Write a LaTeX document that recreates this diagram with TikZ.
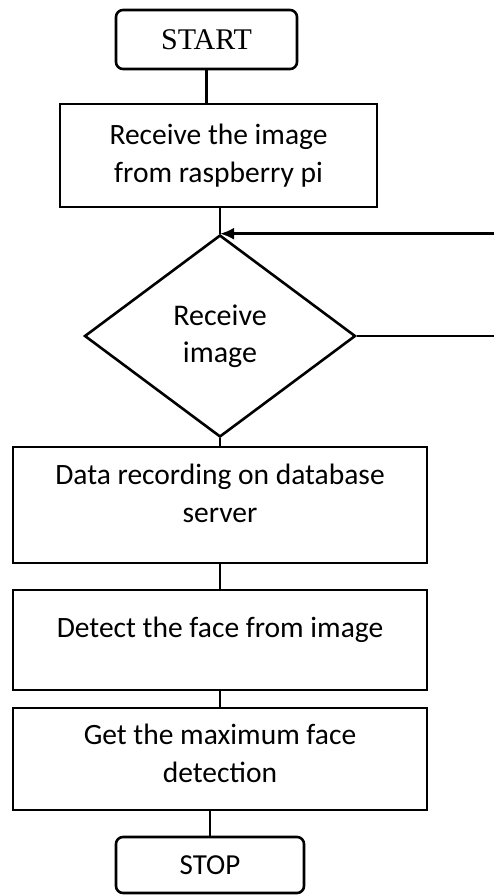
\documentclass[tikz,border=0pt]{standalone}
\usepackage{fontspec}
\setmainfont{Carlito}
\newfontfamily\serifstart{Liberation Serif}
\usetikzlibrary{shapes.geometric,arrows.meta}

\begin{document}
\begin{tikzpicture}[x=1pt, y=-1pt, line width=2.6pt,
    term/.style = {draw, rounded corners=7pt, inner sep=0pt},
    proc/.style = {draw, inner sep=0pt, align=center, font=\fontsize{29.5}{38}\selectfont},
    dec/.style = {draw, diamond, inner sep=0pt, align=center, font=\fontsize{30}{37}\selectfont}]
    \useasboundingbox (0,0) rectangle (494,895);
    \node[term, minimum width=181pt, minimum height=59pt, font=\serifstart\fontsize{30}{34}\selectfont] (start) at (206.5,39.5) {START};
    \node[proc, minimum width=317pt, minimum height=103pt] (recv) at (218.5,155.5) {Receive the image\\from raspberry pi};
    \node[dec, minimum width=271pt, minimum height=202pt] (check) at (220,336) {Receive\\image};
    \node[proc, minimum width=414pt, minimum height=116pt, text depth=24pt] (data) at (220,505) {Data recording on database\\server};
    \node[proc, minimum width=414pt, minimum height=100pt, text depth=26pt] (face) at (220,640) {Detect the face from image};
    \node[proc, minimum width=414pt, minimum height=102pt, text depth=12pt] (maxface) at (220,759) {Get the maximum face\\detection};
    \node[term, minimum width=188pt, minimum height=56pt, font=\fontsize{29}{34}\selectfont] (stop) at (210,865) {STOP};
    \coordinate (edge) at (494,0);
    \coordinate (loopout) at (check.east -| edge);
    \coordinate (loopin) at (check.north -| edge);
    \draw (start.south) -- (start.south |- recv.north);
    \draw (check.north |- recv.south) -- (check.north);
    \draw[-{Latex[length=14pt,width=12pt]}] (loopin) -- (check.north);
    \draw (check.east) -- (loopout);
    \draw (check.south) -- (check.south |- data.north);
    \draw (data.south) -- (face.north);
    \draw (face.south) -- (maxface.north);
    \draw (stop.north |- maxface.south) -- (stop.north);
\end{tikzpicture}
\end{document}
